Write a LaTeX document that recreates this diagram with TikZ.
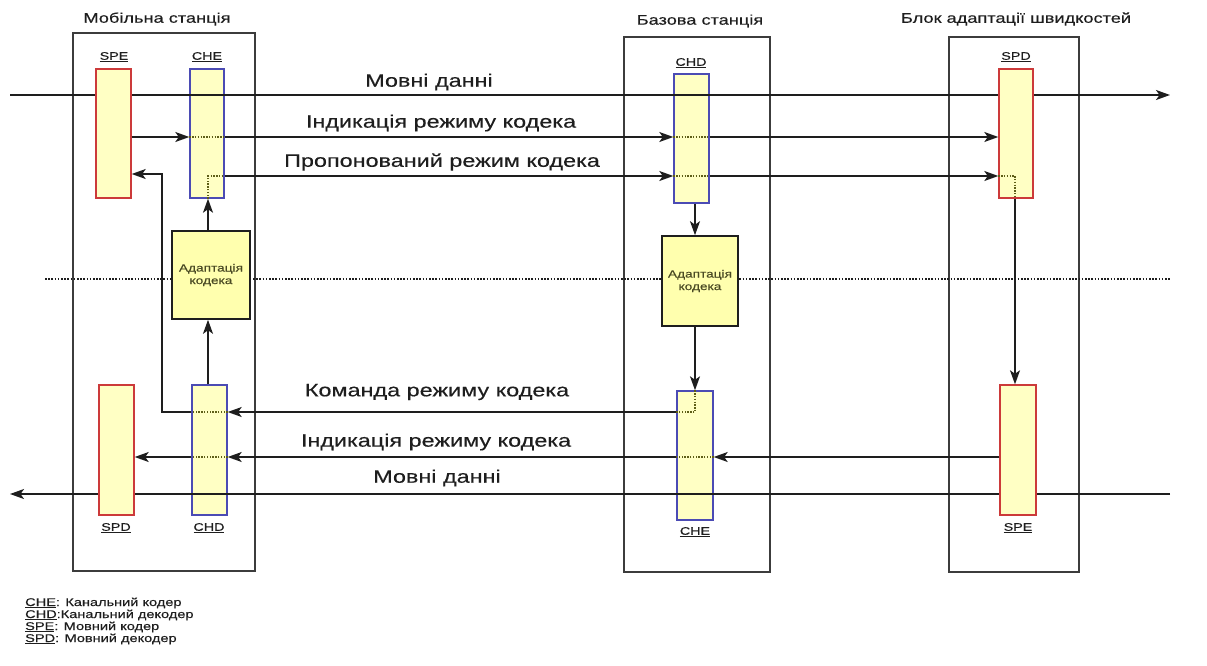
\documentclass[tikz,border=0pt]{standalone}
\usepackage{fontspec}
\setmainfont{Liberation Sans}[FakeStretch=1.3,FakeBold=0.35]
\usetikzlibrary{arrows.meta,calc}
\definecolor{barfill}{HTML}{FFFFC4}
\definecolor{adafill}{HTML}{FFFFAE}
\definecolor{redb}{HTML}{CC3A3A}
\definecolor{blueb}{HTML}{4B4BB4}
\definecolor{dotc}{HTML}{5E5E18}
\definecolor{linec}{HTML}{1E1E1E}
\definecolor{boxc}{HTML}{3C3C3C}
\definecolor{adatext}{HTML}{4A4A24}
\begin{document}
\begin{tikzpicture}[x=1pt,y=-1pt,
 outerbox/.style={draw=boxc,line width=1.7pt,inner sep=0pt},
 spbar/.style={draw=redb,fill=barfill,line width=1.4pt,inner sep=0pt},
 chbar/.style={draw=blueb,fill=barfill,line width=1.4pt,inner sep=0pt},
 adabox/.style={draw=linec,fill=adafill,line width=1.6pt,inner sep=0pt,align=center,text=adatext,font=\fontsize{10.5}{12.5}\selectfont},
 conn/.style={draw=linec,line width=1.5pt},
 arr/.style={conn,-{Stealth[length=14pt,width=10pt,inset=3.5pt]}},
 inner/.style={draw=dotc,line width=1.4pt,dash pattern=on 1.4pt off 1.4pt},
 midline/.style={draw=linec,line width=1.1pt,dash pattern=on 1.6pt off 1.6pt},
 barlabel/.style={font=\fontsize{11}{12}\selectfont,text=linec,inner sep=0pt},
 biglabel/.style={font=\fontsize{18}{20}\selectfont,text=linec,inner sep=0pt},
 titlelabel/.style={font=\fontsize{14}{16}\selectfont,text=linec,inner sep=0pt},
 legendlabel/.style={font=\fontsize{11.2}{12}\selectfont,text=linec,inner sep=0pt,anchor=west},
]
\useasboundingbox (0,0) rectangle (1207,665);

% outer boxes
\node[outerbox,minimum width=182pt,minimum height=538pt] (ms) at (164,302) {};
\node[outerbox,minimum width=146pt,minimum height=535pt] (bs) at (697,304.5) {};
\node[outerbox,minimum width=130pt,minimum height=535pt] (rau) at (1014,304.5) {};

% middle dotted line
\coordinate (midL) at (45,279);
\coordinate (midR) at (1170,279);
\draw[midline] (midL) -- (midR);

% channel bars
\node[chbar,minimum width=34pt,minimum height=129pt] (che1) at (207,133.5) {};
\node[chbar,minimum width=35pt,minimum height=129pt] (chd2) at (691.5,138.5) {};
\node[chbar,minimum width=35pt,minimum height=130pt] (chd1) at (209.5,450) {};
\node[chbar,minimum width=36pt,minimum height=129pt] (che2) at (695,455.5) {};

% speech data lines
\coordinate (mdTL) at (10,95);
\coordinate (mdTR) at (1170,95);
\coordinate (mdBR) at (1170,494);
\coordinate (mdBL) at (10,494);
\draw[arr] (mdTL) -- (mdTR);
\draw[arr] (mdBR) -- (mdBL);

% speech bars
\node[spbar,minimum width=35pt,minimum height=129pt] (spe1) at (113.5,133.5) {};
\node[spbar,minimum width=34pt,minimum height=129pt] (spd3) at (1016,133.5) {};
\node[spbar,minimum width=35pt,minimum height=130pt] (spd1) at (116.5,450) {};
\node[spbar,minimum width=36pt,minimum height=130pt] (spe3) at (1018,450) {};

% adaptation boxes
\node[adabox,minimum width=78pt,minimum height=88pt] (ada1) at (211,275) {Адаптація\\кодека};
\node[adabox,minimum width=76pt,minimum height=90pt] (ada2) at (700,281) {Адаптація\\кодека};

% helper coordinates
\coordinate (yI1) at (0,137);
\coordinate (yP) at (0,176);
\coordinate (yS) at (0,174);
\coordinate (yK) at (0,412);
\coordinate (yI2) at (0,457);
\coordinate (xR) at (1015,0);
\coordinate (xA) at (208,0);
\coordinate (xB) at (695,0);
\coordinate (xL) at (162,0);

% top codec mode indication
\draw[arr] (spe1.east |- yI1) -- (che1.west |- yI1);
\draw[inner] (che1.west |- yI1) -- (che1.east |- yI1);
\draw[arr] (che1.east |- yI1) -- (chd2.west |- yI1);
\draw[inner] (chd2.west |- yI1) -- (chd2.east |- yI1);
\draw[arr] (chd2.east |- yI1) -- (spd3.west |- yI1);

% proposed codec mode
\draw[inner] (xA |- che1.south) -- (xA |- yP) -- (che1.east |- yP);
\draw[arr] (che1.east |- yP) -- (chd2.west |- yP);
\draw[inner] (chd2.west |- yP) -- (chd2.east |- yP);
\draw[arr] (chd2.east |- yP) -- (spd3.west |- yP);
\draw[inner] (spd3.west |- yP) -- (xR |- yP) -- (xR |- spd3.south);
\draw[arr] (xR |- spd3.south) -- (xR |- spe3.north);

% mobile adaptation
\draw[arr] (xA |- chd1.north) -- (xA |- ada1.south);
\draw[arr] (xA |- ada1.north) -- (xA |- che1.south);

% base adaptation and codec mode command
\draw[arr] (xB |- chd2.south) -- (xB |- ada2.north);
\draw[arr] (xB |- ada2.south) -- (xB |- che2.north);
\draw[inner] (xB |- che2.north) -- (xB |- yK) -- (che2.west |- yK);
\draw[arr] (che2.west |- yK) -- (chd1.east |- yK);
\draw[inner] (chd1.east |- yK) -- (chd1.west |- yK);
\draw[arr] (chd1.west |- yK) -- (xL |- yK) -- (xL |- yS) -- (spe1.east |- yS);

% bottom codec mode indication
\draw[arr] (spe3.west |- yI2) -- (che2.east |- yI2);
\draw[inner] (che2.east |- yI2) -- (che2.west |- yI2);
\draw[arr] (che2.west |- yI2) -- (chd1.east |- yI2);
\draw[inner] (chd1.east |- yI2) -- (chd1.west |- yI2);
\draw[arr] (chd1.west |- yI2) -- (spd1.east |- yI2);

% titles
\node[titlelabel] (t1) at (157,19) {Мобільна станція};
\node[titlelabel] (t2) at (700,21) {Базова станція};
\node[titlelabel] (t3) at (1016,19) {Блок адаптації швидкостей};

% bar labels
\node[barlabel] (lspe1) at (114,57) {\underline{SPE}};
\node[barlabel] (lche1) at (207,57) {\underline{CHE}};
\node[barlabel] (lchd2) at (691,63) {\underline{CHD}};
\node[barlabel] (lspd3) at (1016,57) {\underline{SPD}};
\node[barlabel] (lspd1) at (116,528) {\underline{SPD}};
\node[barlabel] (lchd1) at (209,528) {\underline{CHD}};
\node[barlabel] (lche2) at (695,532) {\underline{CHE}};
\node[barlabel] (lspe3) at (1018,528) {\underline{SPE}};

% flow labels
\node[biglabel] (f1) at (429,82) {Мовні данні};
\node[biglabel] (f2) at (441,123) {Індикація режиму кодека};
\node[biglabel] (f3) at (442,162) {Пропонований режим кодека};
\node[biglabel] (f4) at (437,392) {Команда режиму кодека};
\node[biglabel] (f5) at (436,442) {Індикація режиму кодека};
\node[biglabel] (f6) at (437,478) {Мовні данні};

% legend
\node[legendlabel] (g1) at (25,603) {\underline{CHE}: Канальний кодер};
\node[legendlabel] (g2) at (25,615) {\underline{CHD}:Канальний декодер};
\node[legendlabel] (g3) at (25,627) {\underline{SPE}: Мовний кодер};
\node[legendlabel] (g4) at (25,639) {\underline{SPD}: Мовний декодер};
\end{tikzpicture}
\end{document}
